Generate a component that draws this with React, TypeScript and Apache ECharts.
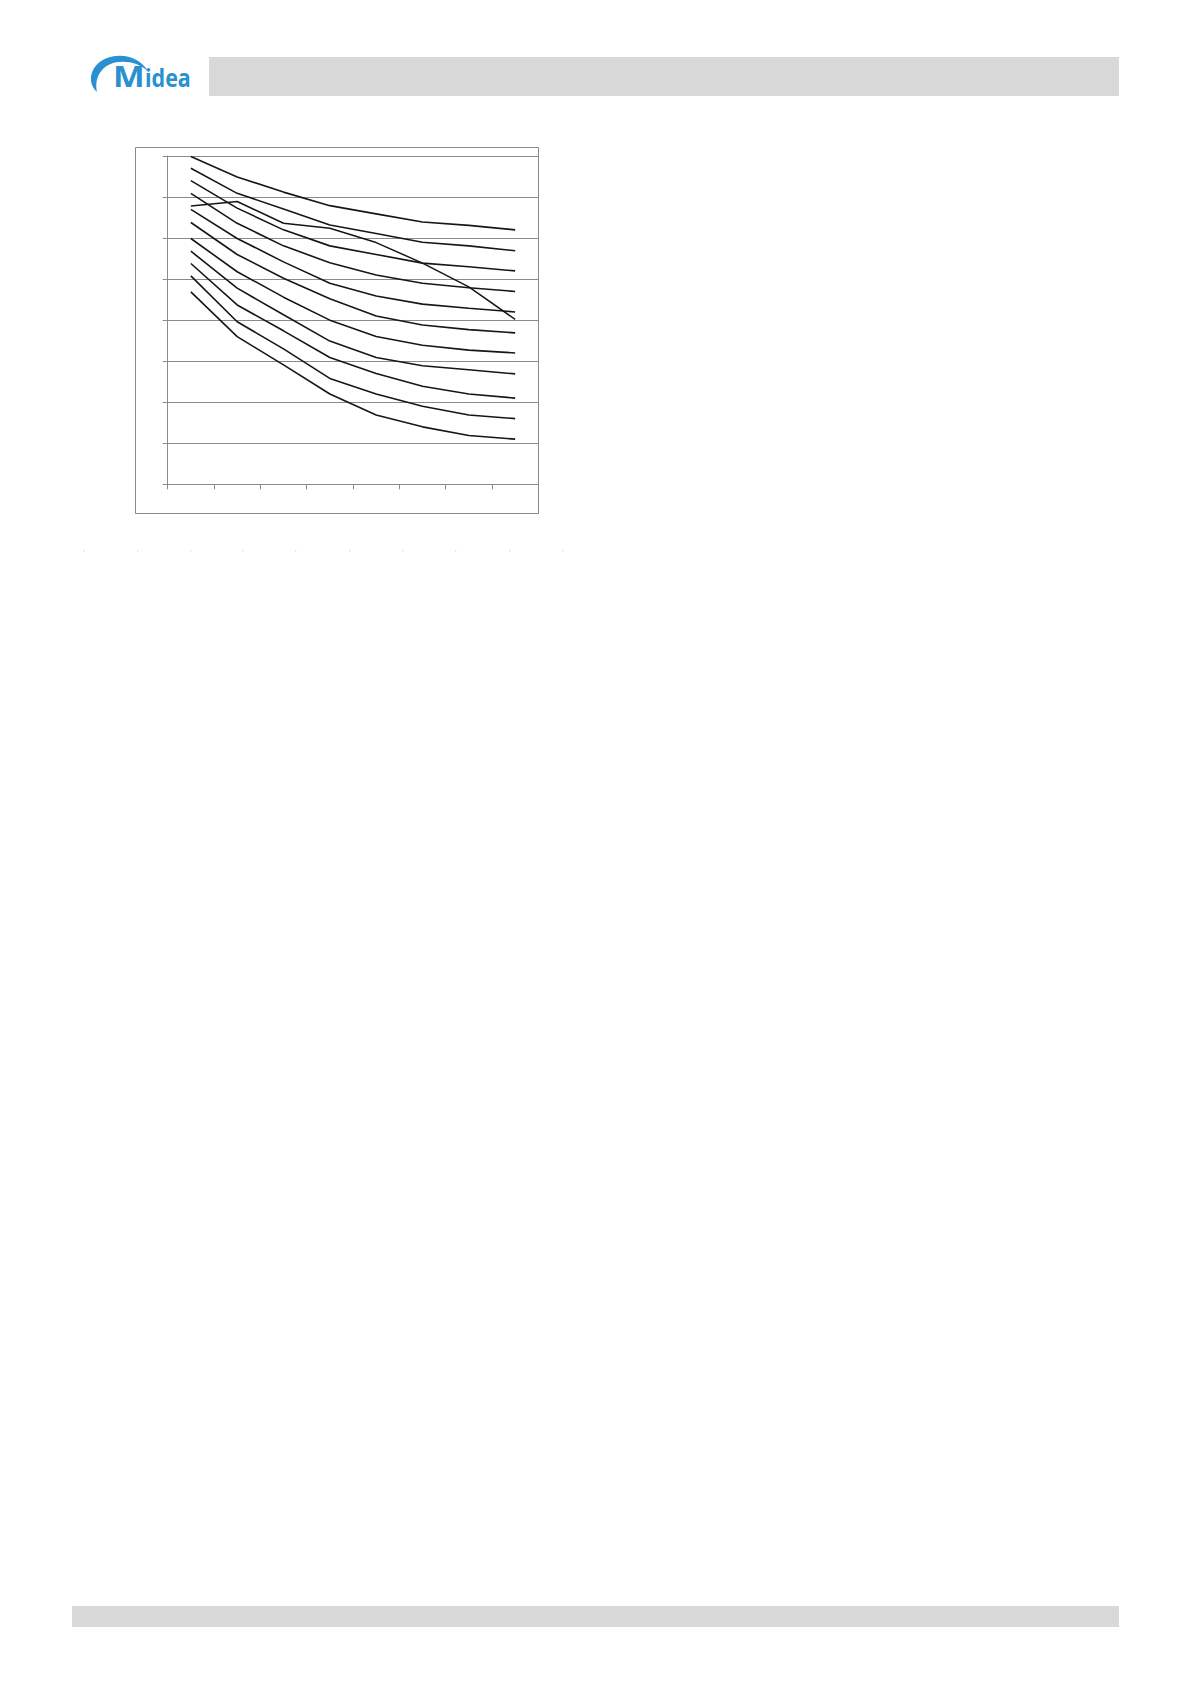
import React, { useEffect, useRef } from 'react';
import * as echarts from 'echarts';

// hidden category axis (8 steps), value axis 0..80 without labels
const categories = ['1', '2', '3', '4', '5', '6', '7', '8'];
const yTicks = [0, 10, 20, 30, 40, 50, 60, 70, 80];

// the eleven falling curves, top to bottom
const curve1 = [79.9, 74.9, 71.2, 67.9, 65.9, 63.9, 63.1, 62.0];
const curve2 = [77.0, 70.9, 67.1, 63.2, 61.1, 59.0, 58.1, 56.9];
const curve3 = [74.0, 67.3, 62.0, 58.1, 56.0, 53.9, 53.0, 52.0];
const curve4 = [70.9, 63.6, 58.1, 54.0, 51.0, 49.0, 47.9, 47.0];
const curve5 = [67.0, 59.9, 54.2, 49.0, 45.9, 43.9, 42.9, 42.0];
const curve6 = [63.8, 56.0, 50.2, 45.2, 41.0, 38.8, 37.7, 36.9];
const curve7 = [59.9, 51.8, 45.6, 40.0, 36.0, 33.9, 32.7, 32.0];
const curve8 = [56.8, 47.8, 41.3, 34.9, 30.9, 28.9, 27.9, 26.9];
const curve9 = [53.8, 43.7, 37.4, 30.9, 27.0, 23.9, 22.0, 21.0];
const curve10 = [50.8, 39.6, 33.0, 25.8, 22.0, 19.0, 16.9, 16.0];
const curve11 = [46.9, 36.0, 29.1, 22.0, 16.9, 14.0, 11.9, 11.0];
// the one that crosses the others
const crossCurve = [67.8, 68.9, 63.6, 62.4, 58.9, 53.9, 48.1, 40.2];

const curves = [curve1, curve2, curve3, curve4, curve5, curve6, curve7, curve8, curve9, curve10, curve11];

const PAGE_W = 1191;
const PAGE_H = 1684;
const GRID = { left: 167.7, top: 156, right: PAGE_W - 538.3, bottom: PAGE_H - 484.3 };
const GRAY = '#8a8a8a';
const BLUE = '#2b90cf';

// swoosh of the logo, page coordinates
const swoosh =
  'M97 92 C86 82 90 63 110 57 C125 53 140 58 148 71 C139 63 126 60 115 62.5 C101 66 94 78 97 92 Z';

const App: React.FC = () => {
  const chartRef = useRef<HTMLDivElement>(null);

  useEffect(() => {
    if (!chartRef.current) return;
    echarts.graphic.registerShape('logo', echarts.graphic.extendPath(swoosh, {}) as any);
    const chart = echarts.init(chartRef.current, undefined, { renderer: 'svg' });

    const dots = [83, 137, 190, 242, 295, 349, 402, 455, 509, 562].map((x) => ({
      type: 'rect',
      shape: { x, y: 550, width: 1.2, height: 1.2 },
      style: { fill: '#d0d0d0' },
      silent: true,
    }));

    const option: echarts.EChartsOption = {
      animation: false,
      backgroundColor: '#ffffff',
      grid: { ...GRID },
      xAxis: {
        type: 'category',
        data: categories,
        boundaryGap: true,
        axisLine: { show: true, lineStyle: { color: GRAY, width: 1 } },
        axisTick: { show: true, length: 5, lineStyle: { color: GRAY } },
        axisLabel: { show: false },
        splitLine: { show: false },
      },
      yAxis: {
        type: 'value',
        min: yTicks[0],
        max: yTicks[yTicks.length - 1],
        interval: yTicks[1] - yTicks[0],
        axisLine: { show: true, lineStyle: { color: GRAY, width: 1 } },
        axisTick: { show: true, length: 5, lineStyle: { color: GRAY } },
        axisLabel: { show: false },
        splitLine: { show: true, lineStyle: { color: GRAY, width: 1 } },
      },
      series: [
        ...curves.map((data, i) => ({
          name: 'curve' + (i + 1),
          type: 'line' as const,
          data,
          symbol: 'none',
          lineStyle: { color: '#161616', width: 1.6 },
        })),
        {
          name: 'cross',
          type: 'line' as const,
          data: crossCurve,
          symbol: 'none',
          lineStyle: { color: '#161616', width: 1.5 },
        },
      ],
      graphic: [
        // header bar
        { type: 'rect', shape: { x: 209, y: 57, width: 910, height: 39 }, style: { fill: '#d9d9d9' }, silent: true },
        // footer bar
        { type: 'rect', shape: { x: 72, y: 1606, width: 1047, height: 21 }, style: { fill: '#d9d9d9' }, silent: true },
        // logo
        { type: 'logo', x: 0, y: 0, scaleX: 1, scaleY: 1, style: { fill: BLUE }, silent: true } as any,
        {
          type: 'text',
          x: 113,
          y: 76.5,
          scaleX: 1.2,
          style: { text: 'M', fill: BLUE, font: 'bold 28px "Open Sans", sans-serif', verticalAlign: 'middle' } as any,
          silent: true,
        },
        {
          type: 'text',
          x: 145,
          y: 77.5,
          scaleX: 0.86,
          style: { text: 'idea', fill: BLUE, font: 'bold 25px "Open Sans", sans-serif', verticalAlign: 'middle' } as any,
          silent: true,
        },
        // chart frame
        {
          type: 'rect',
          shape: { x: 135.5, y: 147.5, width: 403, height: 366 },
          style: { fill: 'none', stroke: GRAY, lineWidth: 1 },
          silent: true,
        },
        ...dots,
      ] as any,
    };

    chart.setOption(option);
    return () => {
      chart.dispose();
    };
  }, []);

  return (
    <div
      ref={chartRef}
      style={{ position: 'absolute', left: 0, top: 0, width: PAGE_W + 'px', height: PAGE_H + 'px', background: '#fff' }}
    />
  );
};

export default App;
